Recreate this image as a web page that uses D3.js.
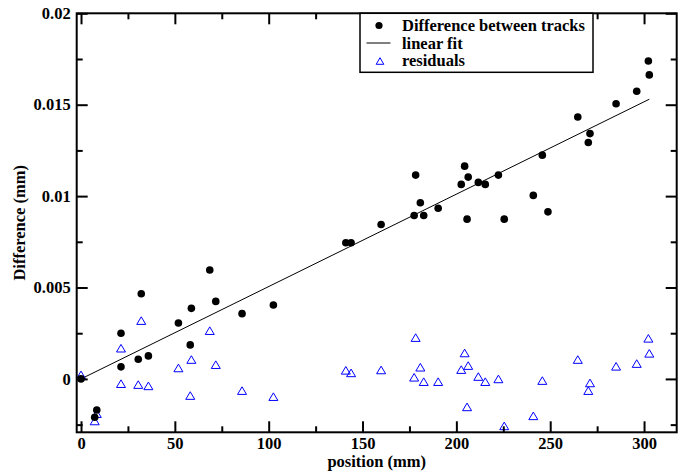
<!DOCTYPE html>
<html>
<head>
<meta charset="utf-8">
<script src="https://cdn.jsdelivr.net/npm/d3@7/dist/d3.min.js"></script>
<style>
  html, body { margin: 0; padding: 0; background: #fff; }
  svg { display: block; }
  text { font-family: "Liberation Serif", "Times New Roman", serif; font-weight: bold; }
</style>
</head>
<body>
<svg id="chart" width="685" height="474"></svg>
<script>
// ---- data ----
const positions = [0, 7.3, 8.4, 21.3, 21.3, 30.5, 32.1, 35.9, 51.9, 58.2, 58.8, 68.6, 71.8, 85.8,
  102.5, 141.1, 143.9, 159.9, 177.5, 178.3, 180.8, 182.6, 190.3, 202.6, 204.4, 205.7, 206.3,
  211.7, 215.4, 222.4, 225.5, 241.0, 245.8, 248.8, 264.7, 270.3, 271.2, 285.1, 296.1, 302.3, 302.8];
const differences = [0.0000, -0.0021, -0.0017, 0.0025, 0.00066, 0.00108, 0.00466, 0.00126, 0.00306,
  0.00186, 0.00386, 0.00596, 0.00424, 0.00357, 0.00404, 0.00745, 0.00745, 0.00845, 0.00894, 0.01115,
  0.00964, 0.00894, 0.00934, 0.01064, 0.01164, 0.00874, 0.01104, 0.01075, 0.01064, 0.01115, 0.00874,
  0.01004, 0.01224, 0.00914, 0.01433, 0.01293, 0.01342, 0.01505, 0.01574, 0.01739, 0.01663];
const residuals = [0.00022, -0.0023, -0.0019, 0.00168, -0.00026, -0.00031, 0.00319, -0.00038, 0.0006,
  -0.00091, 0.00106, 0.00264, 0.00078, -0.00064, -0.00097, 0.00047, 0.00033, 0.00049, 0.00009, 0.00226,
  0.00064, -0.00015, -0.00015, 0.00051, 0.00142, -0.00153, 0.00073, 0.00013, -0.00015, 0.0000, -0.00257,
  -0.00202, -0.00009, -0.0034, 0.00106, -0.00064, -0.00022, 0.00069, 0.00084, 0.00222, 0.0014];
const fitX = [0, 302.8];
const fitY = [0.0000, 0.0153];
const xTicks = [0, 50, 100, 150, 200, 250, 300];
const yTicks = [0, 0.005, 0.01, 0.015, 0.02];
const yTickLabels = ["0", "0.005", "0.01", "0.015", "0.02"];
const legendLabels = ["Difference between tracks", "linear fit", "residuals"];
const xTitle = "position (mm)";
const yTitle = "Difference (mm)";

// ---- layout ----
const L = 76.7, R = 676.7, T = 13.3, B = 432.3;
const svg = d3.select("#chart");
const x = d3.scaleLinear().domain([-2.3, 317.4]).range([L, R]);
const y = d3.scaleLinear().domain([-0.00292, 0.02]).range([B, T]);
const xMinor = d3.range(0, 325, 25).filter(v => !xTicks.includes(v));
const yMinor = [-0.0025, 0.0025, 0.0075, 0.0125, 0.0175];

svg.append("defs").append("clipPath").attr("id", "clip")
  .append("rect").attr("x", L).attr("y", T).attr("width", R - L).attr("height", B - T);

const plot = svg.append("g").attr("clip-path", "url(#clip)");

// fit line
plot.append("path")
  .attr("d", d3.line().x(d => x(d[0])).y(d => y(d[1]))(fitX.map((v, i) => [v, fitY[i]])))
  .attr("fill", "none").attr("stroke", "#000").attr("stroke-width", 1);

// residual triangles
const tri = "M0,-3.8L4.5,3.8L-4.5,3.8Z";
plot.selectAll("path.res").data(positions.map((p, i) => [p, residuals[i]]))
  .join("path").attr("class", "res")
  .attr("d", tri)
  .attr("transform", d => `translate(${x(d[0])},${y(d[1])})`)
  .attr("fill", "none").attr("stroke", "#0000ff").attr("stroke-width", 1);

// difference dots
plot.selectAll("circle.diff").data(positions.map((p, i) => [p, differences[i]]))
  .join("circle").attr("class", "diff")
  .attr("cx", d => x(d[0])).attr("cy", d => y(d[1])).attr("r", 3.8)
  .attr("fill", "#000");

// ---- axes ----
function styleAxis(g) {
  g.selectAll(".domain").remove();
  g.selectAll(".tick line").attr("stroke", "#000").attr("stroke-width", 2);
  g.selectAll("text").attr("font-size", 16.5).attr("fill", "#000")
    .attr("font-family", '"Liberation Serif", "Times New Roman", serif').attr("font-weight", "bold");
}
const fmtY = v => yTickLabels[yTicks.indexOf(v)];

svg.append("g").attr("transform", `translate(0,${B})`)
  .call(d3.axisBottom(x).tickValues(xTicks).tickSize(-11).tickSizeOuter(0).tickPadding(5).tickFormat(d3.format("d")))
  .call(styleAxis);
svg.append("g").attr("transform", `translate(0,${B})`)
  .call(d3.axisBottom(x).tickValues(xMinor).tickSize(-6).tickSizeOuter(0).tickFormat(""))
  .call(styleAxis);
svg.append("g").attr("transform", `translate(0,${T})`)
  .call(d3.axisTop(x).tickValues(xTicks).tickSize(-11).tickSizeOuter(0).tickFormat(""))
  .call(styleAxis);
svg.append("g").attr("transform", `translate(0,${T})`)
  .call(d3.axisTop(x).tickValues(xMinor).tickSize(-6).tickSizeOuter(0).tickFormat(""))
  .call(styleAxis);
svg.append("g").attr("transform", `translate(${L},0)`)
  .call(d3.axisLeft(y).tickValues(yTicks).tickSize(-11).tickSizeOuter(0).tickPadding(6).tickFormat(fmtY))
  .call(styleAxis);
svg.append("g").attr("transform", `translate(${L},0)`)
  .call(d3.axisLeft(y).tickValues(yMinor).tickSize(-6).tickSizeOuter(0).tickFormat(""))
  .call(styleAxis);
svg.append("g").attr("transform", `translate(${R},0)`)
  .call(d3.axisRight(y).tickValues(yTicks).tickSize(-11).tickSizeOuter(0).tickFormat(""))
  .call(styleAxis);
svg.append("g").attr("transform", `translate(${R},0)`)
  .call(d3.axisRight(y).tickValues(yMinor).tickSize(-6).tickSizeOuter(0).tickFormat(""))
  .call(styleAxis);

// frame
svg.append("rect").attr("x", L).attr("y", T).attr("width", R - L).attr("height", B - T)
  .attr("fill", "none").attr("stroke", "#000").attr("stroke-width", 2);

// titles
svg.append("text").attr("x", (L + R) / 2).attr("y", 467).attr("text-anchor", "middle")
  .attr("font-size", 16.5).text(xTitle);
svg.append("text").attr("transform", `translate(25,${(T + B) / 2}) rotate(-90)`)
  .attr("text-anchor", "middle").attr("font-size", 16.5).text(yTitle);

// ---- legend ----
const lg = svg.append("g");
lg.append("rect").attr("x", 360).attr("y", T).attr("width", 233).attr("height", 59)
  .attr("fill", "#fff").attr("stroke", "#000").attr("stroke-width", 1.5);
const rows = [30.5, 48.5, 66];
lg.append("circle").attr("cx", 379).attr("cy", 25.5).attr("r", 3.6).attr("fill", "#000");
lg.append("line").attr("x1", 366.5).attr("x2", 390.5).attr("y1", 43).attr("y2", 43)
  .attr("stroke", "#000").attr("stroke-width", 1);
lg.append("path").attr("d", "M0,-3.3L3.8,3.3L-3.8,3.3Z").attr("transform", "translate(380,61)")
  .attr("fill", "none").attr("stroke", "#0000ff").attr("stroke-width", 1);
legendLabels.forEach((t, i) => {
  lg.append("text").attr("x", 402).attr("y", rows[i]).attr("font-size", 16.5).text(t);
});
</script>
</body>
</html>
